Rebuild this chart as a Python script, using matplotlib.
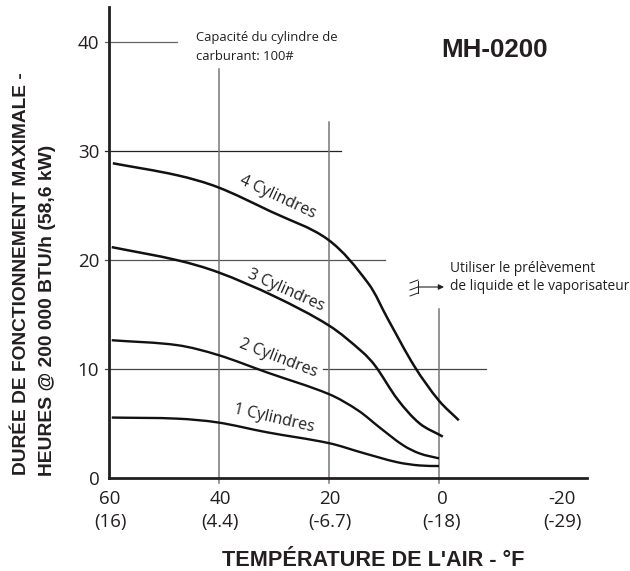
import matplotlib
matplotlib.use("Agg")
import matplotlib.pyplot as plt
import numpy as np
from matplotlib.path import Path
from matplotlib.patches import PathPatch
from matplotlib.transforms import ScaledTranslation

temp4 = [59.3, 47.6, 40.2, 30.7, 20.2, 12.9, 9.3, 4.4, 0, -3.6]
cyl4 = [28.9, 27.8, 26.7, 24.5, 21.9, 17.9, 14.6, 10.2, 7.1, 5.3]
temp3 = [59.5, 47.6, 40.2, 30, 20, 14, 11.6, 7.5, 3.5, -0.7]
cyl3 = [21.2, 20.0, 18.9, 16.7, 14.0, 11.6, 10.3, 7.2, 5.0, 3.8]
temp2 = [59.5, 47.6, 40.2, 31.3, 20, 14.7, 10.7, 6.5, 3.5, 0]
cyl2 = [12.65, 12.2, 11.3, 9.7, 7.7, 6.2, 4.6, 3.0, 2.25, 1.8]
temp1 = [59.5, 47.6, 40.2, 31.3, 20, 13.8, 7.6, 3.5, 0]
cyl1 = [5.55, 5.45, 5.1, 4.2, 3.2, 2.3, 1.45, 1.15, 1.1]
xticks = [60, 40, 20, 0, -20]
xlabels = ["60\n(16)", "40\n(4.4)", "20\n(-6.7)", "0\n(-18)", "-20\n(-29)"]
yticks = [0, 10, 20, 30, 40]

W, H = 630, 571
fig = plt.figure(figsize=(W/100, H/100), dpi=100)
L, R, T, B = 109, 587, 7, 478
SX, SY = 5.5, 10.89
ax = fig.add_axes([L/W, 1-B/H, (R-L)/W, (B-T)/H])
ax.set_xlim(60, 60-(R-L)/SX)
ax.set_ylim(0, (B-T)/SY)
for s in ("top", "right"):
    ax.spines[s].set_visible(False)
for s in ("left", "bottom"):
    ax.spines[s].set_linewidth(2.0)
    ax.spines[s].set_color("#231f20")
    ax.spines[s].set_zorder(4)

HG = {40: "#666666", 30: "#222222", 20: "#555555", 10: "#444444"}
for y, segs in [(40, [(60.8, 47.6)]), (30, [(60.8, 17.8)]), (20, [(60.8, 9.8)]),
                (10, [(60.8, 28.2), (21.1, -8.5)])]:
    for a, b in segs:
        ax.plot([a, b], [y, y], color=HG[y], lw=0.9, zorder=1, clip_on=False)
for x, ye in [(40, 37.6), (20, 32.7), (0, 15.5)]:
    ax.plot([x, x], [-0.45, ye], color="#777777", lw=1.1, zorder=1, clip_on=False)


def smooth(ax, xs, ys, lw):
    s = np.array([SX, SY])
    p = np.column_stack([xs, ys]) * s * np.array([-1, 1])
    n = len(p)
    t = np.zeros_like(p)
    for i in range(n):
        a, b = p[max(i-1, 0)], p[min(i+1, n-1)]
        t[i] = (b - a) / np.hypot(*(b - a))
    verts = [p[0]]
    codes = [Path.MOVETO]
    for i in range(n-1):
        d = np.hypot(*(p[i+1] - p[i])) / 3
        verts += [p[i] + t[i]*d, p[i+1] - t[i+1]*d, p[i+1]]
        codes += [Path.CURVE4] * 3
    v = np.array(verts) * np.array([-1, 1]) / s
    ax.add_patch(PathPatch(Path(v, codes), fill=False, edgecolor="#111111", lw=lw,
                           capstyle="butt", zorder=3))


smooth(ax, temp4, cyl4, 1.8)
smooth(ax, temp3, cyl3, 1.8)
smooth(ax, temp2, cyl2, 1.7)
smooth(ax, temp1, cyl1, 1.7)

ax.set_xticks(xticks)
ax.set_xticklabels(xlabels, fontsize=13.5, family="Open Sans", color="#231f20", linespacing=1.32)
ax.set_yticks(yticks)
ax.set_yticklabels([str(v) for v in yticks], fontsize=13.5, family="Open Sans", color="#231f20")
ax.tick_params(length=0)
ax.tick_params(axis="x", pad=9)
ax.tick_params(axis="y", pad=7)
offs = [1, 1, 1, 3, 13]
for lab, dx in zip(ax.get_xticklabels(), offs):
    lab.set_transform(lab.get_transform() + ScaledTranslation(dx/100, 0, fig.dpi_scale_trans))

tf = "Open Sans"
ink = "#231f20"
ov = fig.add_axes([0, 0, 1, 1], facecolor="none")
ov.set_xlim(0, W); ov.set_ylim(H, 0); ov.axis("off")
for x, y, rot, s in [(278, 197, -25, "4 Cylindres"), (286, 290, -24, "3 Cylindres"),
                     (278, 358, -21, "2 Cylindres"), (274, 418, -13, "1 Cylindres")]:
    ov.text(x, y, s, rotation=rot, rotation_mode="anchor", ha="center", va="center",
            fontsize=11.5, family=tf, color=ink)

ov.text(196, 38, "Capacité du cylindre de", fontsize=9.4, family=tf, color=ink, va="center")
ov.text(196, 57, "carburant: 100#", fontsize=9.4, family=tf, color=ink, va="center")
ov.text(450, 268, "Utiliser le prélèvement", fontsize=9.9, family=tf, color=ink, va="center")
ov.text(450, 286, "de liquide et le vaporisateur", fontsize=9.9, family=tf, color=ink, va="center")
ov.text(441, 50, "MH-0200", fontsize=18.6, family="Liberation Sans", weight="bold", color=ink, va="center")
ov.text(373, 560, "TEMPÉRATURE DE L'AIR - °F", fontsize=15.6, family="Liberation Sans",
        weight="bold", color=ink, ha="center", va="center")
ov.text(22, 274, "DURÉE DE FONCTIONNEMENT MAXIMALE -", rotation=90, fontsize=13.75,
        family="Liberation Sans", weight="bold", color=ink, ha="center", va="center")
ov.text(48, 310.5, "HEURES @ 200 000 BTU/h (58,6 kW)", rotation=90, fontsize=13.85,
        family="Liberation Sans", weight="bold", color=ink, ha="center", va="center")

ov.annotate("", xy=(444, 287), xytext=(418, 287),
            arrowprops=dict(arrowstyle="-|>", color=ink, lw=0.8, mutation_scale=8, shrinkA=0, shrinkB=0))
for yy in (283, 290, 296):
    ov.plot([410, 418], [yy, yy-3], color=ink, lw=0.7)
ov.plot([418, 418], [281, 293], color=ink, lw=0.7)

fig.savefig("out.png", dpi=100)
